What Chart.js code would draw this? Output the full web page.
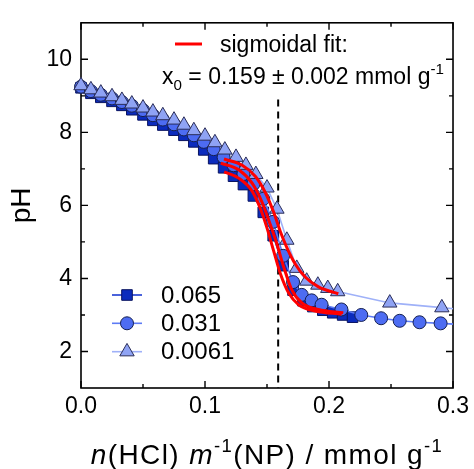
<!DOCTYPE html>
<html><head><meta charset="utf-8">
<script src="https://cdn.jsdelivr.net/npm/chart.js@4/dist/chart.umd.min.js"></script>
<style>html,body{margin:0;padding:0;background:#fff}#wrap{width:474px;height:469px}</style>
</head><body><div id="wrap"><canvas id="c" width="474" height="469"></canvas></div>
<script>
// ---- data ----
const xTicks = [0, 0.1, 0.2, 0.3];
const yTicks = [2, 4, 6, 8, 10];
const xMinor = [0.05, 0.15, 0.25];
const yMinor = [3, 5, 7, 9];
const seriesNames = ['0.065', '0.031', '0.0061'];

const sqX = [0,0.008,0.016,0.025,0.033,0.041,0.050,0.058,0.066,0.075,0.083,0.091,0.099,0.107,0.115,0.123,0.131,0.139,0.147,0.155,0.163,0.171,0.179,0.187,0.195,0.203,0.211,0.219];
const sqY = [9.22,9.07,8.96,8.85,8.74,8.62,8.48,8.33,8.20,8.06,7.92,7.74,7.52,7.28,7.03,6.80,6.57,6.26,5.81,5.17,4.35,3.68,3.39,3.23,3.13,3.06,3.00,2.94];

const ciX = [0,0.008,0.016,0.025,0.033,0.041,0.050,0.058,0.066,0.075,0.083,0.091,0.099,0.107,0.115,0.123,0.131,0.139,0.147,0.155,0.163,0.171,0.178,0.186,0.194,0.210,0.226,0.242,0.257,0.273,0.290,0.306];
const ciY = [9.25,9.13,9.03,8.93,8.83,8.73,8.61,8.47,8.35,8.22,8.08,7.92,7.74,7.54,7.32,7.10,6.86,6.58,6.18,5.55,4.62,3.90,3.55,3.40,3.28,3.15,3.00,2.91,2.84,2.80,2.77,2.74];

const trX = [0,0.008,0.016,0.025,0.033,0.041,0.050,0.058,0.066,0.075,0.083,0.091,0.100,0.108,0.116,0.125,0.133,0.141,0.150,0.158,0.166,0.174,0.182,0.191,0.199,0.207,0.249,0.291,0.333];
const trY = [9.28,9.17,9.08,8.98,8.88,8.78,8.67,8.56,8.46,8.34,8.20,8.05,7.90,7.72,7.52,7.32,7.10,6.85,6.48,5.90,5.05,4.28,3.93,3.82,3.73,3.64,3.33,3.20,3.08];

// sigmoidal fit curves
const fitSqX = [0.1154,0.1274,0.138,0.1448,0.1501,0.1554,0.1608,0.1675,0.1755,0.1889,0.2102];
const fitSqY = [6.92,6.74,6.39,5.90,5.37,4.75,4.13,3.60,3.28,3.11,3.02];
const fitCiX = [0.1127,0.1274,0.138,0.1461,0.1528,0.1581,0.1635,0.1701,0.1781,0.1915,0.2115];
const fitCiY = [7.16,6.97,6.61,6.08,5.46,4.93,4.31,3.68,3.33,3.15,3.06];
const fitTrX = [0.1153,0.130,0.1407,0.1488,0.1554,0.1608,0.1661,0.1729,0.1808,0.1915,0.2075];
const fitTrY = [7.27,7.10,6.79,6.34,5.81,5.28,4.84,4.39,4.04,3.77,3.58];

const x0Value = 0.159;   // fitted centre (dashed line)
const dashTopPH = 8.9;   // dashed line starts below the annotation

// ---- styles ----
const FONT = "'Liberation Sans', Arial, sans-serif";
const styles = [
  {fill:'#0b2bbd', border:'#0a1460', line:'#1d3bd2', shape:'rect', r:7.5},
  {fill:'#4d6cf2', border:'#152050', line:'#5d7bf5', shape:'circle', r:6.5},
  {fill:'#8fa3f4', border:'#2a2d58', line:'#9fb1f8', shape:'triangle', r:8.3}
];
const pts = (xs, ys) => xs.map((v, i) => ({x: v, y: ys[i]}));

function seriesDS(i, xs, ys, order) {
  const s = styles[i];
  return {
    label: seriesNames[i], data: pts(xs, ys), order,
    borderColor: s.line, borderWidth: 1.6, tension: 0,
    pointStyle: s.shape, pointRadius: s.r, pointHoverRadius: s.r,
    pointBackgroundColor: s.fill, pointBorderColor: s.border, pointBorderWidth: 1,
    clip: {left: 10, right: 0, top: 0, bottom: 0}
  };
}
function fitDS(xs, ys) {
  return {
    label: 'fit', data: pts(xs, ys), order: 0,
    borderColor: '#ff0000', borderWidth: 3, pointRadius: 0,
    cubicInterpolationMode: 'monotone'
  };
}

function drawRich(ctx, parts, x, y, size, spacing) {
  let cx = x;
  ctx.letterSpacing = (spacing || 0) + 'px';
  for (const p of parts) {
    const fs = (p.sub || p.sup) ? size * 0.66 : size;
    ctx.font = (p.italic ? 'italic ' : '') + fs + 'px ' + FONT;
    const dy = p.sub ? size * 0.28 : (p.sup ? -size * 0.42 : 0);
    ctx.fillText(p.t, cx, y + dy);
    cx += ctx.measureText(p.t).width;
  }
  ctx.letterSpacing = '0px';
  return cx - x;
}

const decor = {
  id: 'decor',
  beforeDatasetsDraw(chart) {
    const {ctx, scales: {x, y}, chartArea: a} = chart;
    ctx.save();
    // dashed line at x0
    ctx.strokeStyle = '#000'; ctx.lineWidth = 2; ctx.setLineDash([7, 5]);
    const px = x.getPixelForValue(x0Value);
    ctx.beginPath(); ctx.moveTo(px, y.getPixelForValue(dashTopPH)); ctx.lineTo(px, a.bottom); ctx.stroke();
    ctx.setLineDash([]);
    // frame
    ctx.lineWidth = 1.6;
    ctx.strokeRect(a.left, a.top, a.right - a.left, a.bottom - a.top);
    // ticks (inward, all four sides)
    ctx.lineWidth = 1.4;
    ctx.beginPath();
    const tx = (v, len) => { const p = x.getPixelForValue(v);
      ctx.moveTo(p, a.bottom); ctx.lineTo(p, a.bottom - len);
      ctx.moveTo(p, a.top); ctx.lineTo(p, a.top + len); };
    const ty = (v, len) => { const p = y.getPixelForValue(v);
      ctx.moveTo(a.left, p); ctx.lineTo(a.left + len, p);
      ctx.moveTo(a.right, p); ctx.lineTo(a.right - len, p); };
    xTicks.forEach(v => tx(v, 7)); xMinor.forEach(v => tx(v, 4));
    yTicks.forEach(v => ty(v, 7)); yMinor.forEach(v => ty(v, 4));
    ctx.stroke();
    ctx.restore();
  },
  afterDraw(chart) {
    const {ctx, chartArea: a} = chart;
    ctx.save();
    ctx.fillStyle = '#000';
    ctx.textBaseline = 'alphabetic'; ctx.textAlign = 'left';
    // annotation
    ctx.strokeStyle = '#ff0000'; ctx.lineWidth = 3;
    ctx.beginPath(); ctx.moveTo(175, 44); ctx.lineTo(202, 44); ctx.stroke();
    ctx.font = '23px ' + FONT;
    ctx.fillText('sigmoidal fit:', 220, 52);
    drawRich(ctx, [{t:'x'}, {t:'0', sub:true}, {t:' = 0.159 \u00b1 0.002 mmol g'}, {t:'-1', sup:true}], 162, 84, 23);
    // legend
    const ly = [295, 323.3, 351.7];
    styles.forEach((s, i) => {
      ctx.strokeStyle = s.line; ctx.lineWidth = 1.6;
      ctx.beginPath(); ctx.moveTo(112, ly[i]); ctx.lineTo(142, ly[i]); ctx.stroke();
      ctx.fillStyle = s.fill; ctx.strokeStyle = s.border; ctx.lineWidth = 1;
      Chart.helpers.drawPoint(ctx, {pointStyle: s.shape, radius: s.r, rotation: 0, borderWidth: 1}, 127, ly[i]);
      ctx.fillStyle = '#000';
      ctx.font = '24px ' + FONT; ctx.textBaseline = 'middle';
      ctx.fillText(seriesNames[i], 161, ly[i] + 1);
      ctx.textBaseline = 'alphabetic';
    });
    // x title
    ctx.fillStyle = '#000';
    const parts = [{t:'n', italic:true}, {t:'(HCl) '}, {t:'m', italic:true}, {t:'-1', sup:true}, {t:'(NP) / mmol g'}, {t:'-1', sup:true}];
    const tmp = document.createElement('canvas').getContext('2d');
    const w = drawRich(tmp, parts, 0, 0, 28, 1.4);
    drawRich(ctx, parts, (a.left + a.right) / 2 - w / 2, 464, 28, 1.4);
    ctx.restore();
  }
};

new Chart(document.getElementById('c'), {
  type: 'line',
  data: {
    datasets: [
      fitDS(fitTrX, fitTrY), fitDS(fitCiX, fitCiY), fitDS(fitSqX, fitSqY),
      seriesDS(2, trX, trY, 1), seriesDS(1, ciX, ciY, 2), seriesDS(0, sqX, sqY, 3)
    ]
  },
  options: {
    responsive: false, animation: false, devicePixelRatio: 1,
    layout: {padding: {top: 10.5, right: 18, left: 0, bottom: 0}},
    plugins: {legend: {display: false}, tooltip: {enabled: false}},
    scales: {
      x: {
        type: 'linear', min: 0, max: 0.3,
        grid: {display: false, drawTicks: false}, border: {display: false},
        afterBuildTicks: s => { s.ticks = xTicks.map(v => ({value: v})); },
        afterFit: s => { s.height = 81; },
        ticks: {color: '#000', padding: 5, maxRotation: 0, font: {family: FONT, size: 23},
          callback: v => Number(v).toFixed(1)}
      },
      y: {
        type: 'linear', min: 1, max: 11,
        grid: {display: false, drawTicks: false}, border: {display: false},
        afterBuildTicks: s => { s.ticks = yTicks.map(v => ({value: v})); },
        afterFit: s => { s.width = 81; },
        ticks: {color: '#000', padding: 9, font: {family: FONT, size: 23}},
        title: {display: true, text: 'pH', color: '#000', padding: {top: 5, bottom: 6}, font: {family: FONT, size: 28}}
      }
    }
  },
  plugins: [decor]
});
</script>
</body></html>
